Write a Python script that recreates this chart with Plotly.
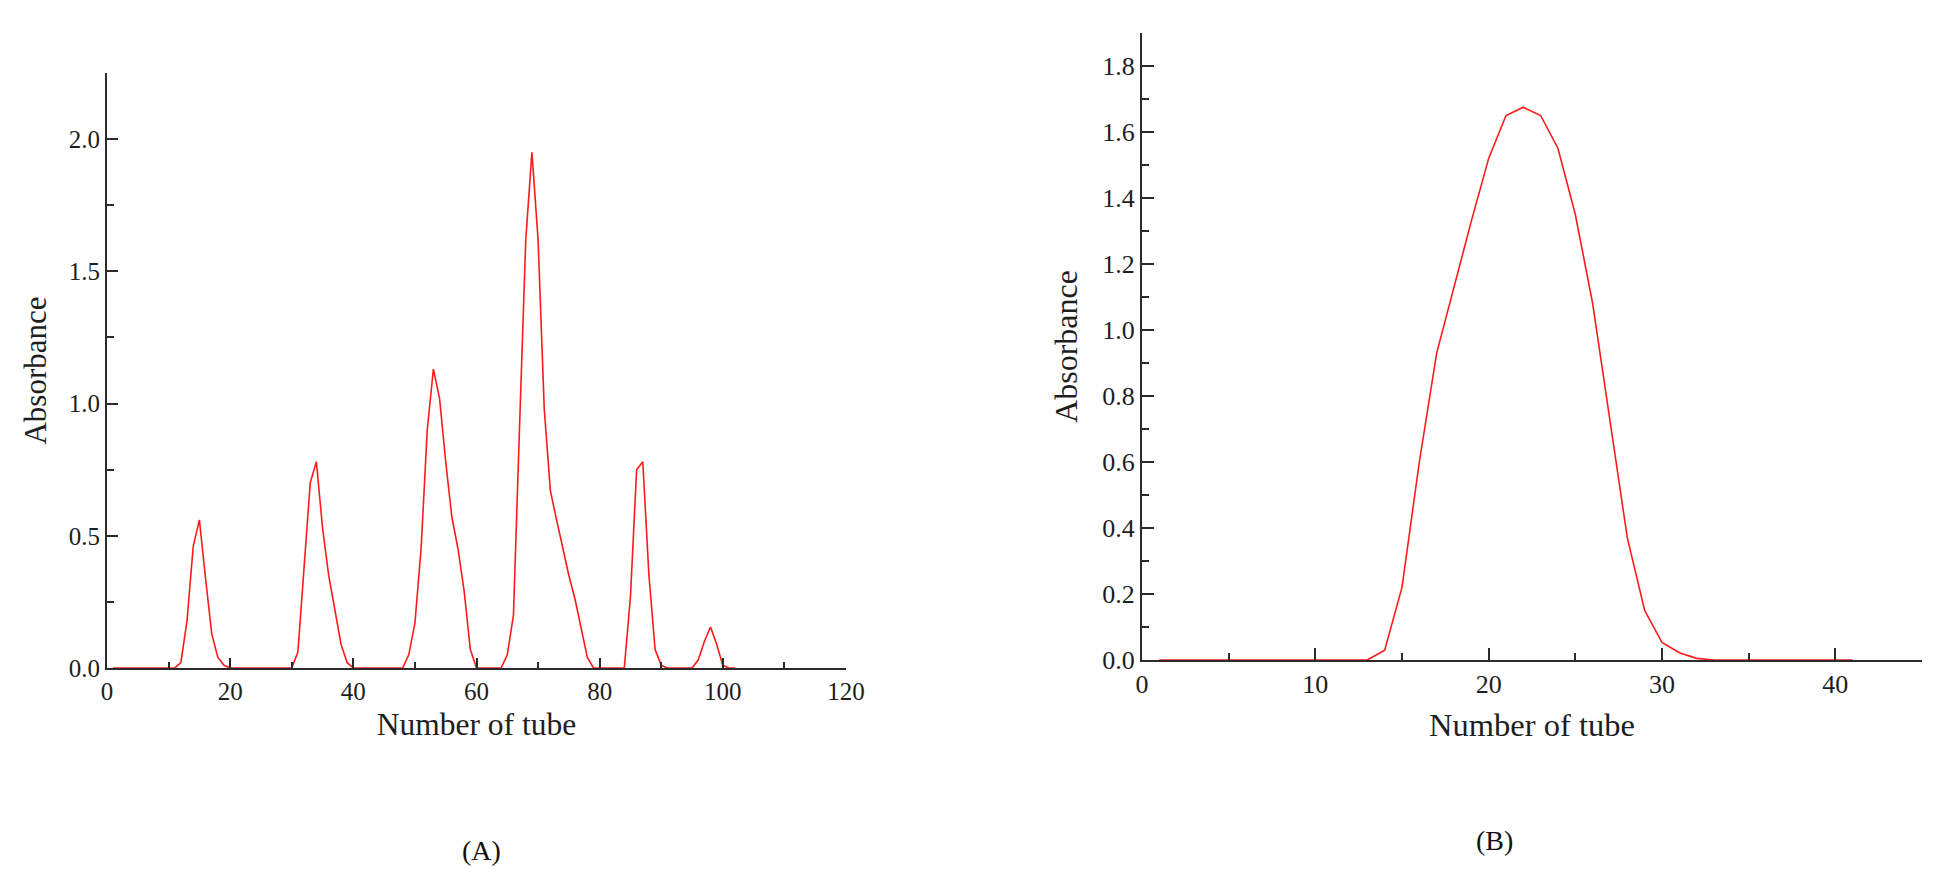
import plotly.graph_objects as go

# ---------------- data ----------------
tubes_a = list(range(1, 103))
absorbance_a = (
    [0.0] * 11 +                                                  # 1-11
    [0.02, 0.18, 0.46, 0.56, 0.34, 0.13, 0.04, 0.01] +            # 12-19
    [0.0] * 11 +                                                  # 20-30
    [0.06, 0.38, 0.70, 0.78, 0.53, 0.35, 0.22, 0.09, 0.02] +      # 31-39
    [0.0] * 9 +                                                   # 40-48
    [0.05, 0.17, 0.45, 0.90, 1.13, 1.02, 0.78, 0.57, 0.45, 0.29, 0.07] +  # 49-59
    [0.0] * 5 +                                                   # 60-64
    [0.05, 0.20, 0.92, 1.62, 1.95, 1.62, 0.98, 0.67, 0.56, 0.45,
     0.35, 0.26, 0.15, 0.04] +                                    # 65-78
    [0.0] * 6 +                                                   # 79-84
    [0.27, 0.75, 0.78, 0.35, 0.07, 0.01] +                        # 85-90
    [0.0] * 5 +                                                   # 91-95
    [0.03, 0.10, 0.155, 0.09, 0.01, 0.0, 0.0]                     # 96-102
)

tubes_b = list(range(1, 42))
absorbance_b = (
    [0.0] * 13 +                                                  # 1-13
    [0.03, 0.22, 0.60, 0.93, 1.13, 1.33, 1.52, 1.65, 1.675, 1.65,
     1.55, 1.35, 1.08, 0.72, 0.37, 0.15, 0.053, 0.022, 0.005] +   # 14-32
    [0.0] * 9                                                     # 33-41
)

panel_labels = ["(A)", "(B)"]
x_title = "Number of tube"
y_title = "Absorbance"

# ---------------- figure ----------------
# the page body has an 8px margin, so the figure is drawn 16px smaller
# and screen positions are converted with that offset
OFF = 8
W, H = 1953 - 2 * OFF, 879 - 2 * OFF
FONT = "Liberation Serif, Times New Roman, serif"
AX = "#2b2b2b"
TXT = "#1e1e1e"
RED = "#ff1a1a"

fig = go.Figure()
fig.add_trace(go.Scatter(x=tubes_a, y=absorbance_a, mode="lines",
                         line=dict(color=RED, width=1.6), xaxis="x", yaxis="y",
                         showlegend=False))
fig.add_trace(go.Scatter(x=tubes_b, y=absorbance_b, mode="lines",
                         line=dict(color=RED, width=1.6), xaxis="x2", yaxis="y2",
                         showlegend=False))


def px_x(p):
    return (p - OFF) / W


def px_y(p):
    return 1 - (p - OFF) / H


common = dict(showline=True, linecolor=AX, linewidth=2, ticks="inside",
              tickcolor=AX, tickwidth=2, showgrid=False, zeroline=False,
              mirror=False, fixedrange=True, automargin=False)

fig.update_layout(
    width=W, height=H,
    margin=dict(l=0, r=0, t=0, b=0, autoexpand=False),
    paper_bgcolor="white", plot_bgcolor="white",
    font=dict(family=FONT, color=TXT),
    xaxis=dict(domain=[px_x(107), px_x(846)], range=[0, 120], tick0=0, dtick=20,
               ticklen=10, tickfont=dict(size=25, family=FONT, color=TXT),
               minor=dict(ticks="inside", dtick=10, ticklen=6, tickwidth=2, tickcolor=AX),
               title=dict(text=x_title, font=dict(size=31.5, family=FONT, color=TXT), standoff=9),
               anchor="y", **common),
    yaxis=dict(domain=[px_y(668), px_y(73)], range=[0, 2.25], tick0=0, dtick=0.5,
               tickformat=".1f", ticklen=11, tickfont=dict(size=25, family=FONT, color=TXT),
               minor=dict(ticks="inside", dtick=0.25, ticklen=7, tickwidth=2, tickcolor=AX),
               title=dict(text=y_title, font=dict(size=31, family=FONT, color=TXT), standoff=13),
               anchor="x", **common),
    xaxis2=dict(domain=[px_x(1142), px_x(1922)], range=[0, 45], tick0=0, dtick=10,
                ticklen=12, tickfont=dict(size=26, family=FONT, color=TXT),
                minor=dict(ticks="inside", dtick=5, ticklen=7, tickwidth=2, tickcolor=AX),
                title=dict(text=x_title, font=dict(size=32.5, family=FONT, color=TXT), standoff=15),
                anchor="y2", **common),
    yaxis2=dict(domain=[px_y(660), px_y(33)], range=[0, 1.9], tick0=0, dtick=0.2,
                tickformat=".1f", ticklen=12, tickfont=dict(size=26, family=FONT, color=TXT),
                minor=dict(ticks="inside", dtick=0.1, ticklen=7, tickwidth=2, tickcolor=AX),
                title=dict(text=y_title, font=dict(size=32, family=FONT, color=TXT), standoff=15),
                anchor="x2", **common),
    annotations=[
        dict(text=panel_labels[0], x=px_x(481), y=px_y(850), xref="paper", yref="paper",
             xanchor="center", yanchor="middle",
             showarrow=False, font=dict(size=28, family=FONT, color="#111")),
        dict(text=panel_labels[1], x=px_x(1494), y=px_y(840), xref="paper", yref="paper",
             xanchor="center", yanchor="middle",
             showarrow=False, font=dict(size=28, family=FONT, color="#111")),
    ],
)

fig.write_html("out.html")
